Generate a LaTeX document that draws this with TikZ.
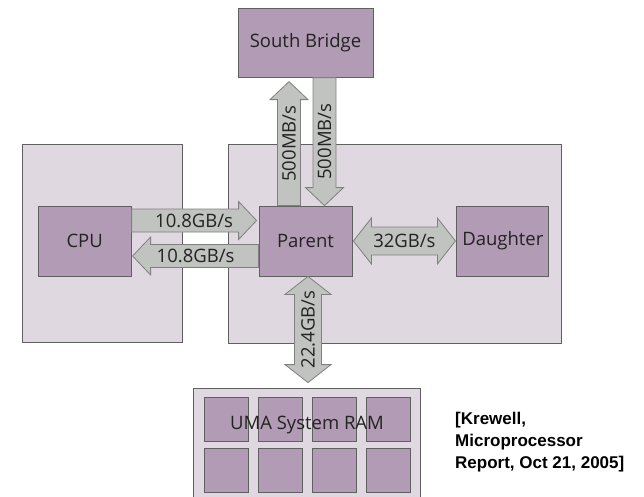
\documentclass[tikz,border=0pt]{standalone}
\usepackage{fontspec}
\setmainfont{Open Sans}
\newfontfamily\citefont{Liberation Sans}
\usetikzlibrary{positioning, calc}

\definecolor{diefill}{RGB}{224,216,224}
\definecolor{chipfill}{RGB}{178,155,180}
\definecolor{busfill}{RGB}{192,195,191}
\definecolor{edgegray}{RGB}{96,96,96}
\definecolor{textgray}{RGB}{35,35,35}

\def\shaft{11.5pt}
\def\head{19pt}
\def\tip{18pt}

% block arrow, one head: from, to, label, text angle
\newcommand{\onearrow}[4]{
    \coordinate (hb) at ($(#2)!\tip!(#1)$);
    \draw[bus] ($(#1)!\shaft!90:(#2)$) -- ($(hb)!\shaft!90:(#2)$) -- ($(hb)!\head!90:(#2)$) -- (#2)
        -- ($(hb)!\head!-90:(#2)$) -- ($(hb)!\shaft!-90:(#2)$) -- ($(#1)!\shaft!-90:(#2)$) -- cycle;
    \node[rotate=#4, text=textgray] at ($(#1)!0.5!(#2)$) {#3};
}

% block arrow, two heads
\newcommand{\twoarrow}[4]{
    \coordinate (ha) at ($(#1)!\tip!(#2)$);
    \coordinate (hb) at ($(#2)!\tip!(#1)$);
    \draw[bus] (#1) -- ($(ha)!\head!90:(#2)$) -- ($(ha)!\shaft!90:(#2)$) -- ($(hb)!\shaft!90:(#2)$)
        -- ($(hb)!\head!90:(#2)$) -- (#2) -- ($(hb)!\head!-90:(#2)$) -- ($(hb)!\shaft!-90:(#2)$)
        -- ($(ha)!\shaft!-90:(#2)$) -- ($(ha)!\head!-90:(#2)$) -- cycle;
    \node[rotate=#4, text=textgray] at ($(#1)!0.5!(#2)$) {#3};
}

\begin{document}
\begin{tikzpicture}[x=1pt, y=-1pt,
    die/.style={rectangle, draw=edgegray, fill=diefill, line width=0.8pt},
    chip/.style={rectangle, draw=edgegray, fill=chipfill, line width=0.8pt, inner sep=0pt,
        minimum width=93pt, minimum height=70pt, text=textgray},
    bus/.style={draw=edgegray!80, fill=busfill, line width=0.8pt},
    every node/.append style={font=\fontsize{18.5}{21}\selectfont}]
        \useasboundingbox (0,0) rectangle (644,496);

        % packages
        \node[die, minimum width=160pt, minimum height=198pt] (cpudie) at (102,243) {};
        \node[die, minimum width=333pt, minimum height=199pt] (gpudie) at (394.5,243.5) {};
        \node[die, minimum width=227pt, minimum height=112pt] (uma) at (306.5,444) {};

        % chips
        \node[chip] (parent) at (305.5,241) {Parent};
        \node[chip, left=127pt of parent] (cpu) {CPU};
        \node[chip, minimum width=92pt, right=104pt of parent] (daughter) {Daughter};
        \node[chip, minimum width=135pt, minimum height=69pt, above=128pt of parent] (sb) {South Bridge};

        \foreach \col in {0,...,3}
            \foreach \row in {0,1}
                \node[chip, minimum width=44pt, minimum height=44pt] (ram\col\row)
                    at ({226+54*\col},{419+51*\row}) {};

        \node[text=textgray] (umalabel) at (307,425) {UMA System RAM};

        % buses
        \onearrow{$(cpu.east)+(0,20.5pt)$}{$(parent.west)+(-2pt,20.5pt)$}{10.8GB/s}{0}
        \onearrow{$(parent.west)+(0,-15pt)$}{$(cpu.east)+(1pt,-15pt)$}{10.8GB/s}{0}
        \onearrow{$(parent.north)+(-16.5pt,0)$}{$(sb.south)+(-16.5pt,-4pt)$}{500MB/s}{90}
        \onearrow{$(sb.south)+(19pt,0)$}{$(parent.north)+(19pt,0)$}{500MB/s}{90}

        \def\shaft{14pt}
        \def\head{23pt}
        \twoarrow{$(parent.east)+(1pt,0)$}{$(daughter.west)+(-1pt,0)$}{32GB/s}{0}
        \def\shaft{13.5pt}
        \twoarrow{$(parent.south)+(2.5pt,0)$}{$(uma.north)+(1.5pt,5pt)$}{22.4GB/s}{90}

        % citation
        \node[anchor=west, align=left, inner sep=0pt,
            font=\citefont\bfseries\fontsize{17}{22}\selectfont] (cite) at (455,442)
            {[Krewell,\\Microprocessor\\Report, Oct 21, 2005]};
\end{tikzpicture}
\end{document}
